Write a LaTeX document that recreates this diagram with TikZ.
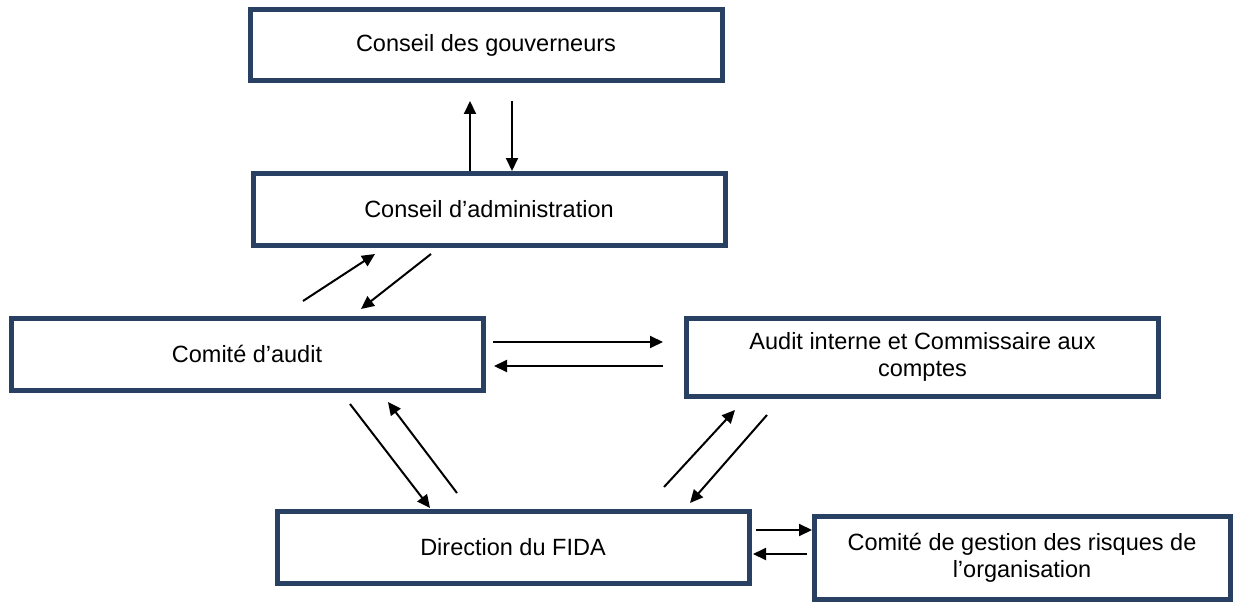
\documentclass[tikz,border=0pt]{standalone}
\usepackage{fontspec}
\setmainfont{Liberation Sans}
\usetikzlibrary{arrows.meta,calc}
\definecolor{boxblue}{RGB}{40,65,98}
\tikzset{
  orgbox/.style={draw=boxblue, line width=5pt, rectangle, outer sep=0pt, inner sep=0pt,
    align=center, font=\fontsize{23.5}{27}\selectfont},
  arr/.style={line width=2pt, -{Triangle[length=13pt,width=12pt]}}
}
\begin{document}
\begin{tikzpicture}[x=1pt,y=-1pt]
\useasboundingbox (0,0) rectangle (1239,607);
\node[orgbox, minimum width=472pt, minimum height=71pt] (b1) at (486,45) {Conseil des gouverneurs};
\node[orgbox, minimum width=472pt, minimum height=72pt] (b2) at (489,209) {Conseil d’administration};
\node[orgbox, minimum width=472pt, minimum height=72pt] (b3) at (247,354) {Comité d’audit};
\node[orgbox, minimum width=472pt, minimum height=78pt] (b4) at (922.5,357) {Audit interne et Commissaire aux\\comptes};
\node[orgbox, minimum width=472pt, minimum height=72pt] (b5) at (513,547.5) {Direction du FIDA};
\node[orgbox, minimum width=416pt, minimum height=83pt] (b6) at (1022,557.5) {Comité de gestion des risques de\\l’organisation};
% b1 <-> b2
\draw[arr] ($(b2.north)+(-19,-2)$) -- ($(b1.south)+(-16,20.5)$);
\draw[arr] ($(b1.south)+(26,20.5)$) -- ($(b2.north)+(23,-2)$);
% b2 <-> b3
\draw[arr] ($(b3.north)+(56,-17)$) -- ($(b2.south)+(-114,9)$);
\draw[arr] ($(b2.south)+(-58,9)$) -- ($(b3.north)+(114,-9)$);
% b3 <-> b4
\draw[arr] ($(b3.east)+(10,-12)$) -- ($(b4.west)+(-23.5,-15)$);
\draw[arr] ($(b4.west)+(-23.5,9)$) -- ($(b3.east)+(11,12)$);
% b3 <-> b5
\draw[arr] ($(b3.south)+(103,14)$) -- ($(b5.north)+(-83,-3.5)$);
\draw[arr] ($(b5.north)+(-56,-18.5)$) -- ($(b3.south)+(141,12)$);
% b5 <-> b4
\draw[arr] ($(b5.north)+(151,-24.5)$) -- ($(b4.south)+(-187.5,14)$);
\draw[arr] ($(b4.south)+(-155.5,19)$) -- ($(b5.north)+(177,-8.5)$);
% b5 <-> b6
\draw[arr] ($(b5.east)+(7,-17.5)$) -- ($(b6.west)+(-2,-27.5)$);
\draw[arr] ($(b6.west)+(-7,-3.5)$) -- ($(b5.east)+(4,6.5)$);
\end{tikzpicture}
\end{document}
